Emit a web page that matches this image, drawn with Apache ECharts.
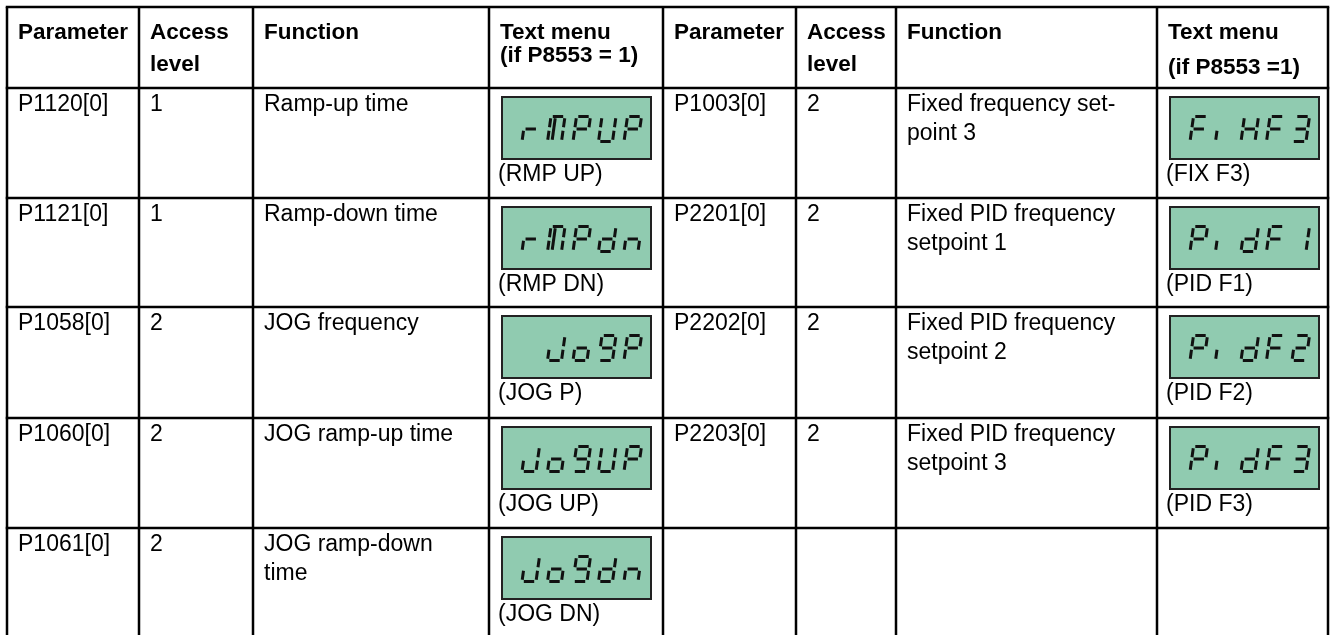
<!DOCTYPE html>
<html><head><meta charset="utf-8">
<script src="https://cdn.jsdelivr.net/npm/echarts@6/dist/echarts.min.js"></script>
<style>html,body{margin:0;padding:0;background:#fff;overflow:hidden}#main{width:1336px;height:635px}</style>
</head><body><div id="main"></div>
<script>
// ---------- data ----------
const headerTitles = ['Parameter', 'Access', 'Function', 'Text menu', 'Parameter', 'Access', 'Function', 'Text menu'];
const headerSubtitles = ['', 'level', '', '(if P8553 = 1)', '', 'level', '', '(if P8553 =1)'];
const leftParams = ['P1120[0]', 'P1121[0]', 'P1058[0]', 'P1060[0]', 'P1061[0]'];
const leftLevels = ['1', '1', '2', '2', '2'];
const leftFunctions = ['Ramp-up time', 'Ramp-down time', 'JOG frequency', 'JOG ramp-up time', 'JOG ramp-down\ntime'];
const leftDisplay = ['rMPUP', 'rMPdn', ' Jo9P', 'Jo9UP', 'Jo9dn'];
const leftMenu = ['(RMP UP)', '(RMP DN)', '(JOG P)', '(JOG UP)', '(JOG DN)'];
const rightParams = ['P1003[0]', 'P2201[0]', 'P2202[0]', 'P2203[0]'];
const rightLevels = ['2', '2', '2', '2'];
const rightFunctions = ['Fixed frequency set-\npoint 3', 'Fixed PID frequency\nsetpoint 1', 'Fixed PID frequency\nsetpoint 2', 'Fixed PID frequency\nsetpoint 3'];
const rightDisplay = ['FiHF3', 'PidF1', 'PidF2', 'PidF3'];
const rightMenu = ['(FIX F3)', '(PID F1)', '(PID F2)', '(PID F3)'];

// ---------- layout ----------
const colEdges = [7, 139, 253, 489, 663, 796, 896, 1157, 1328];
const rowEdges = [7, 88, 198, 307, 418, 528, 638];
const FONT = '"Liberation Sans", Arial, sans-serif';
const BODY = '23px ' + FONT;
const HEAD = 'bold 22.5px ' + FONT;
const LCD_FILL = '#90cbb0';

const SEG = {
  'r': ['e', 'g'], 'M': ['a', 'b', 'c', 'e', 'f', 'm'], 'P': ['a', 'b', 'e', 'f', 'g'],
  'U': ['b', 'c', 'd', 'e', 'f'], 'd': ['b', 'c', 'd', 'e', 'g'], 'n': ['c', 'e', 'g'],
  'J': ['b', 'c', 'd', 'e'], 'o': ['c', 'd', 'e', 'g'], '9': ['a', 'b', 'c', 'd', 'f', 'g'],
  'F': ['a', 'e', 'f', 'g'], 'i': ['e'], 'H': ['b', 'c', 'e', 'f', 'g'],
  '3': ['a', 'b', 'c', 'd', 'g'], '1': ['b', 'c'], '2': ['a', 'b', 'd', 'e', 'g'], ' ': []
};

const graphics = [];
function txt(x, y, s, font) {
  graphics.push({ type: 'text', x: x, y: y, silent: true,
    style: { text: s, font: font, fill: '#000', align: 'left', verticalAlign: 'middle' } });
}
function line(x1, y1, x2, y2, w, c) {
  graphics.push({ type: 'line', silent: true, shape: { x1: x1, y1: y1, x2: x2, y2: y2 },
    style: { stroke: c || '#000', lineWidth: w, lineCap: 'butt' } });
}
function segLine(ox, oy, w, h, sl, p1, p2) {
  const gap = 1.8;
  let [x1, y1] = p1, [x2, y2] = p2;
  const len = Math.hypot(x2 - x1, y2 - y1);
  const ux = (x2 - x1) / len, uy = (y2 - y1) / len;
  x1 += ux * gap; y1 += uy * gap; x2 -= ux * gap; y2 -= uy * gap;
  const tx = (x, y) => ox + x + sl * (1 - y / h);
  line(tx(x1, y1), oy + y1, tx(x2, y2), oy + y2, 3, '#111');
}
function glyph(ch, ox, oy) {
  const w = 14, h = 25, sl = 3.5;
  const P = {
    a: [[0, 0], [w, 0]], b: [[w, 0], [w, h / 2]], c: [[w, h / 2], [w, h]], d: [[0, h], [w, h]],
    e: [[0, h / 2], [0, h]], f: [[0, 0], [0, h / 2]], g: [[0, h / 2], [w, h / 2]], m: [[w * 0.32, 0], [w * 0.32, h]]
  };
  (SEG[ch] || []).forEach(k => segLine(ox, oy, w, h, sl, P[k][0], P[k][1]));
}
function lcd(x0, rowTop, code, label) {
  const bx = x0 + 13, by = rowTop + 9, bw = 149, bh = 62;
  graphics.push({ type: 'rect', silent: true, shape: { x: bx, y: by, width: bw, height: bh },
    style: { fill: LCD_FILL, stroke: '#222', lineWidth: 2 } });
  for (let i = 0; i < code.length; i++) glyph(code[i], bx + 20 + i * 25.5, by + 19.5);
  txt(x0 + 9, rowTop + 87, label, BODY);
}
function cellText(col, rowTop, s) {
  const lines = s.split('\n');
  lines.forEach((l, k) => txt(colEdges[col] + 11, rowTop + 17 + k * 29, l, BODY));
}

// header
headerTitles.forEach((t, c) => {
  txt(colEdges[c] + 11, 33, t, HEAD);
  if (headerSubtitles[c]) {
    const y = c === 3 ? 56 : (c === 7 ? 68 : 65);
    txt(colEdges[c] + 11, y, headerSubtitles[c], HEAD);
  }
});
// body
leftParams.forEach((p, r) => {
  const top = rowEdges[r + 1];
  cellText(0, top, p);
  cellText(1, top, leftLevels[r]);
  cellText(2, top, leftFunctions[r]);
  lcd(colEdges[3], top, leftDisplay[r], leftMenu[r]);
});
rightParams.forEach((p, r) => {
  const top = rowEdges[r + 1];
  cellText(4, top, p);
  cellText(5, top, rightLevels[r]);
  cellText(6, top, rightFunctions[r]);
  lcd(colEdges[7], top, rightDisplay[r], rightMenu[r]);
});
// grid
rowEdges.forEach(y => line(colEdges[0] - 1.25, y, colEdges[colEdges.length - 1] + 1.25, y, 2.5));
colEdges.forEach(x => line(x, rowEdges[0], x, rowEdges[rowEdges.length - 1], 2.5));

const chart = echarts.init(document.getElementById('main'), null, { renderer: 'canvas' });
chart.setOption({ animation: false, backgroundColor: '#fff', graphic: { elements: graphics } });
</script></body></html>
